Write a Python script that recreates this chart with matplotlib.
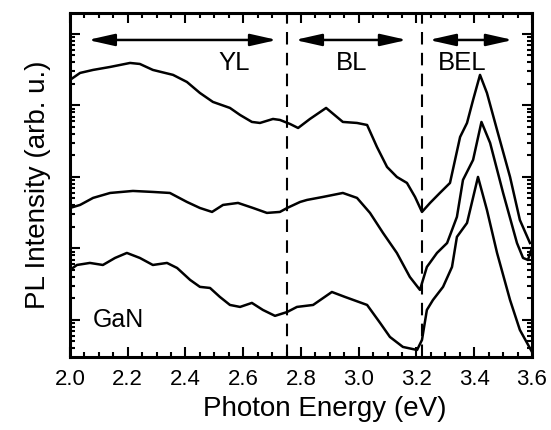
import matplotlib
matplotlib.use("Agg")
import matplotlib.pyplot as plt
from matplotlib.ticker import LogLocator, MultipleLocator, NullFormatter

plt.rcParams['font.family'] = ['Liberation Sans', 'DejaVu Sans']

# photon energy (eV) and PL intensity (arb. u.)
e_top = [2.000, 2.035, 2.080, 2.139, 2.208, 2.242, 2.287, 2.357, 2.405, 2.450,
         2.495, 2.554, 2.589, 2.630, 2.658, 2.703, 2.727, 2.762, 2.790, 2.831,
         2.887, 2.945, 2.994, 3.029, 3.063, 3.098, 3.132, 3.167, 3.195, 3.219,
         3.247, 3.281, 3.316, 3.351, 3.375, 3.396, 3.420, 3.444, 3.479, 3.524,
         3.558, 3.593]
i_top = [2275, 2850, 3140, 3455, 3930, 3805, 3140, 2675, 2130, 1495,
         1120, 923, 736, 588, 569, 647, 627, 551, 484, 647,
         923, 588, 569, 533, 263, 138, 100, 82.4, 52.5, 32.4,
         43.3, 59.7, 82.4, 362, 569, 1194, 2675, 1495, 454, 100,
         25.0, 11.9]

e_mid = [2.000, 2.035, 2.080, 2.139, 2.218, 2.287, 2.346, 2.405, 2.450, 2.492,
         2.530, 2.582, 2.634, 2.682, 2.727, 2.752, 2.797, 2.821, 2.876, 2.945,
         2.994, 3.039, 3.084, 3.132, 3.177, 3.212, 3.236, 3.271, 3.306, 3.340,
         3.361, 3.396, 3.425, 3.455, 3.500, 3.548, 3.569, 3.586, 3.600]
i_mid = [36.8, 40.6, 50.9, 59.7, 63.7, 61.7, 59.7, 44.7, 36.8, 32.4,
         40.6, 43.3, 36.8, 31.4, 32.4, 36.8, 44.7, 47.7, 52.5, 59.7,
         50.9, 31.4, 16.5, 8.65, 3.99, 2.63, 5.51, 8.65, 11.9, 27.6,
         90.8, 173, 588, 299, 59.7, 11.9, 7.36, 6.90, 10.2]

e_bot = [2.000, 2.024, 2.069, 2.114, 2.156, 2.197, 2.242, 2.287, 2.336, 2.371,
         2.416, 2.450, 2.485, 2.519, 2.554, 2.589, 2.630, 2.668, 2.710, 2.752,
         2.786, 2.842, 2.907, 2.952, 3.029, 3.074, 3.108, 3.153, 3.202, 3.219,
         3.236, 3.257, 3.292, 3.323, 3.340, 3.375, 3.413, 3.444, 3.479, 3.524,
         3.558, 3.600]
i_bot = [5.00, 5.87, 6.27, 5.87, 7.36, 8.65, 7.36, 5.87, 6.27, 5.33,
         3.63, 2.90, 2.80, 2.10, 1.62, 1.52, 1.73, 1.38, 1.14, 1.29,
         1.52, 1.62, 2.46, 2.10, 1.62, 0.908, 0.578, 0.419, 0.380, 0.525,
         1.38, 1.90, 2.90, 5.51, 14.5, 22.7, 100, 34.5, 8.65, 1.90,
         0.725, 0.357]

borders = [2.75, 3.22]
bands = ["YL", "BL", "BEL"]
band_from = [2.062, 2.779, 3.243]
band_to = [2.717, 3.167, 3.534]
band_text_x = [2.57, 2.976, 3.357]
arrow_level = 8240
text_level = 3900

fig = plt.figure(figsize=(5.51, 4.30), dpi=100)
ax = fig.add_axes([0.127, 0.170, 0.8385, 0.800])

for e, i in [(e_top, i_top), (e_mid, i_mid), (e_bot, i_bot)]:
    ax.plot(e, i, color='black', lw=1.8, solid_joinstyle='round')

for b in borders:
    ax.axvline(b, color='black', lw=1.5, linestyle=(0, (6, 4)))

for name, a, b, tx in zip(bands, band_from, band_to, band_text_x):
    ax.annotate('', xy=(b, arrow_level), xytext=(a, arrow_level),
                arrowprops=dict(arrowstyle='<|-|>,head_length=0.8,head_width=0.18',
                                mutation_scale=20, color='black', lw=1.8,
                                shrinkA=0, shrinkB=0))
    ax.text(tx, text_level, name, ha='center', va='center', fontsize=18.5)

ax.text(2.08, 1.0, 'GaN', ha='left', va='center', fontsize=18)

ax.set_yscale('log')
ax.set_xlim(2.0, 3.6)
ax.set_ylim(0.304, 19700)

ax.xaxis.set_major_locator(MultipleLocator(0.2))
ax.xaxis.set_minor_locator(MultipleLocator(0.05))
ax.yaxis.set_major_locator(LogLocator(base=10, numticks=20))
ax.yaxis.set_minor_locator(LogLocator(base=10, subs=range(2, 10), numticks=20))
ax.yaxis.set_major_formatter(NullFormatter())
ax.yaxis.set_minor_formatter(NullFormatter())

ax.tick_params(which='both', direction='in', top=True, right=True, width=1.5)
ax.tick_params(which='major', length=7)
ax.tick_params(which='minor', length=3.5)
ax.tick_params(axis='x', which='major', labelsize=16, pad=9)
for s in ax.spines.values():
    s.set_linewidth(2.2)

ax.set_xlabel('Photon Energy (eV)', fontsize=20, labelpad=4)
ax.xaxis.set_label_coords(0.552, -0.115)
ax.set_ylabel('PL Intensity (arb. u.)', fontsize=20, labelpad=10)

fig.savefig('out.png', dpi=100)
